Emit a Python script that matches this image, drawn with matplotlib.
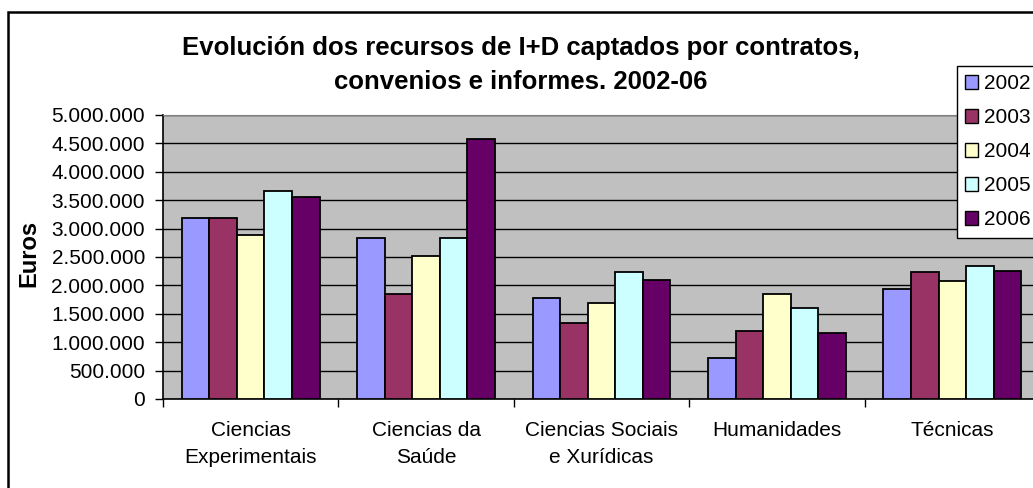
"""Evolución dos recursos de I+D captados por contratos, convenios e informes (2002-06)."""

import numpy as np
import matplotlib
matplotlib.use("Agg")
import matplotlib.pyplot as plt
from matplotlib.patches import Rectangle, Patch

plt.rcParams["font.family"] = ["Liberation Sans", "DejaVu Sans"]

CATEGORIES = ["Ciencias\nExperimentais", "Ciencias da\nSaúde", "Ciencias Sociais\ne Xurídicas",
              "Humanidades", "Técnicas"]
YEARS = ["2002", "2003", "2004", "2005", "2006"]
V2002 = [3190000, 2840000, 1770000, 720000, 1930000]
V2003 = [3190000, 1840000, 1330000, 1190000, 2230000]
V2004 = [2880000, 2510000, 1690000, 1840000, 2070000]
V2005 = [3670000, 2840000, 2230000, 1600000, 2350000]
V2006 = [3550000, 4580000, 2100000, 1160000, 2250000]
SERIES = [V2002, V2003, V2004, V2005, V2006]
COLORS = ["#9999FF", "#993366", "#FFFFCC", "#CCFFFF", "#660066"]

W, H = 1033, 488
fig = plt.figure(figsize=(W / 100, H / 100), dpi=100)
fig.patch.set_facecolor("white")

# plot area in pixel terms
left, right, top, bottom = 163, 1040, 115, 399
ax = fig.add_axes([left / W, 1 - bottom / H, (right - left) / W, (bottom - top) / H])
ax.set_facecolor("#C0C0C0")

x = np.arange(len(CATEGORIES))
bw = 0.157
for i, (vals, col, yr) in enumerate(zip(SERIES, COLORS, YEARS)):
    ax.bar(x + (i - 2) * bw, vals, width=bw, color=col, edgecolor="black",
           linewidth=1.3, label=yr, zorder=3)

ax.set_xlim(-0.5, len(CATEGORIES) - 0.5)
ax.set_ylim(0, 5000000)
yt = np.arange(0, 5000001, 500000)
ax.set_yticks(yt)
ax.set_yticklabels([f"{int(v):,}".replace(",", ".") for v in yt])
ax.yaxis.grid(True, color="black", linewidth=1, zorder=1)
ax.set_axisbelow(True)

ax.set_xticks(x)
ax.set_xticklabels(CATEGORIES, linespacing=1.55)
ax.set_xticks(np.arange(-0.5, len(CATEGORIES)), minor=True)
ax.tick_params(axis="x", which="major", length=0, pad=16, labelsize=15)
ax.tick_params(axis="x", which="minor", length=6, width=1, color="black")
ax.tick_params(axis="y", length=6, width=1, pad=7, labelsize=15)

for s in ["left", "bottom"]:
    ax.spines[s].set_color("black")
    ax.spines[s].set_linewidth(1.2)
ax.spines["top"].set_color("#808080")
ax.spines["right"].set_color("#808080")

fig.text(29 / W, 1 - 253 / H, "Euros", rotation=90, ha="center", va="center",
         fontsize=17, fontweight="bold")

fig.text(521 / W, 1 - 48 / H, "Evolución dos recursos de I+D captados por contratos,",
         ha="center", va="center", fontsize=18.5, fontweight="bold")
fig.text(521 / W, 1 - 82 / H, "convenios e informes. 2002-06",
         ha="center", va="center", fontsize=18.5, fontweight="bold")

handles = [Patch(facecolor=c, edgecolor="black", linewidth=1) for c in COLORS]
leg = fig.legend(handles, YEARS, loc="upper left", bbox_to_anchor=(957 / W, 1 - 66 / H),
                 fontsize=15, frameon=True, fancybox=False, borderaxespad=0,
                 handlelength=0.6, handleheight=0.6, handletextpad=0.3,
                 labelspacing=0.72, borderpad=0.4)
leg.get_frame().set_edgecolor("black")
leg.get_frame().set_linewidth(1)
leg.get_frame().set_alpha(None)

# chart area border (cut off at right and bottom like the source image)
fig.add_artist(Rectangle((8 / W, -0.2), 1.2, 1.2 - 12 / H, transform=fig.transFigure,
                         fill=False, edgecolor="black", linewidth=1.8, clip_on=False))

fig.savefig("out.png", dpi=100)
